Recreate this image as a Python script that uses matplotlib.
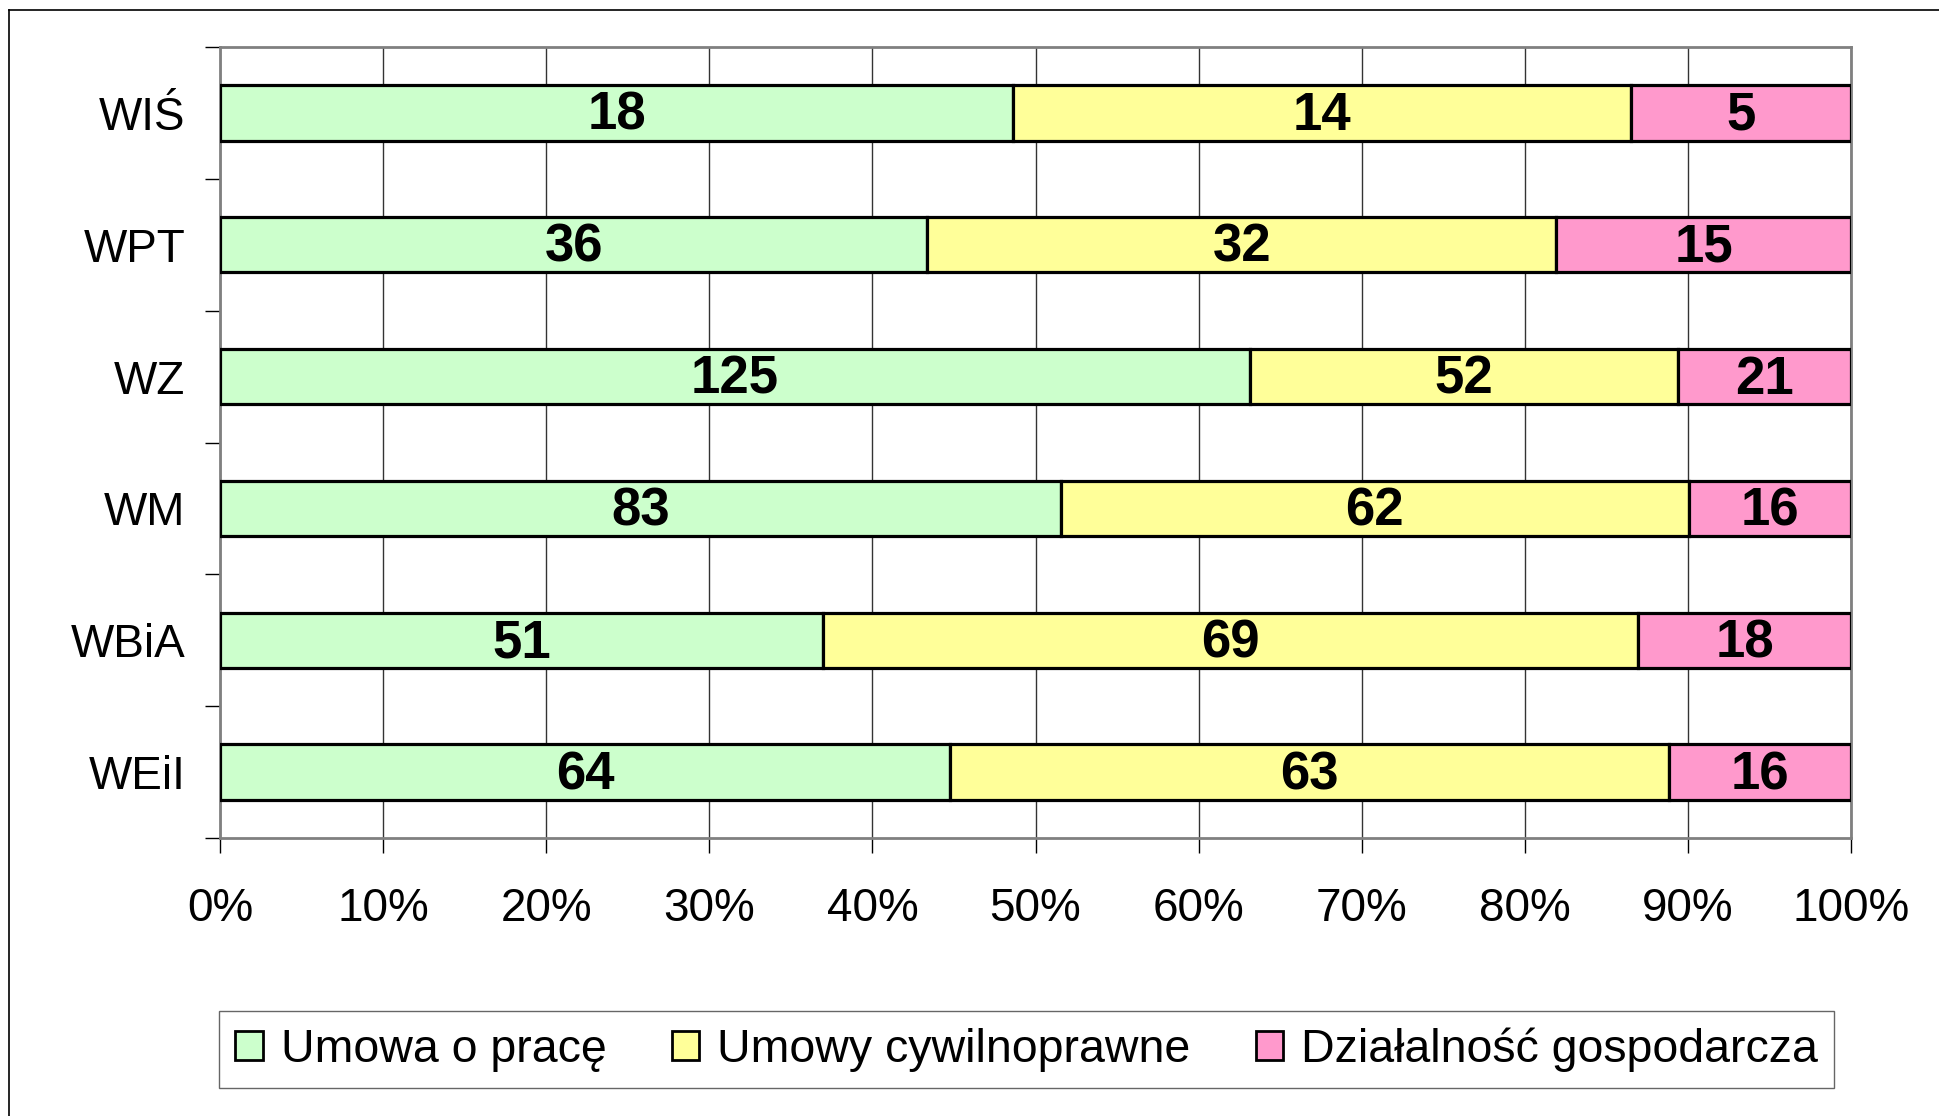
import matplotlib
matplotlib.use("Agg")
import matplotlib.pyplot as plt
from matplotlib.patches import Patch
from matplotlib.lines import Line2D
from matplotlib.transforms import offset_copy
import numpy as np

plt.rcParams['font.family'] = ['Liberation Sans', 'DejaVu Sans']

categories = ["WIŚ", "WPT", "WZ", "WM", "WBiA", "WEiI"]
series_names = ["Umowa o pracę", "Umowy cywilnoprawne", "Działalność gospodarcza"]
umowa_o_prace = [18, 36, 125, 83, 51, 64]
umowy_cywilnoprawne = [14, 32, 52, 62, 69, 63]
dzialalnosc = [5, 15, 21, 16, 18, 16]
x_ticks = [0, 10, 20, 30, 40, 50, 60, 70, 80, 90, 100]
x_ticklabels = [f"{v}%" for v in x_ticks]

colors = ["#CCFFCC", "#FFFF99", "#FF99CC"]

W, H = 1939, 1116
fig = plt.figure(figsize=(W / 100, H / 100), dpi=100)
ax = fig.add_axes([220 / W, 1 - 838 / H, (1851 - 220) / W, (838 - 47) / H])

data = np.array([umowa_o_prace, umowy_cywilnoprawne, dzialalnosc], dtype=float)
totals = data.sum(axis=0)
pct = data / totals * 100
ypos = np.arange(len(categories))

label_tr = offset_copy(ax.transData, fig=fig, x=0, y=-3, units="dots")
left = np.zeros(len(categories))
for i in range(3):
    ax.barh(ypos, pct[i], left=left, height=0.42, color=colors[i],
            edgecolor="black", linewidth=2.3, zorder=3)
    for j in range(len(categories)):
        ax.text(left[j] + pct[i][j] / 2, ypos[j], str(int(data[i][j])),
                ha="center", va="center", fontsize=38, fontweight="bold",
                color="black", zorder=4, transform=label_tr)
    left += pct[i]

ax.set_xlim(0, 100)
ax.set_ylim(len(categories) - 0.5, -0.5)
ax.set_xticks(x_ticks)
ax.set_xticklabels(x_ticklabels, fontsize=33)
ax.set_yticks(ypos)
ax.set_yticklabels(categories, fontsize=33)
ax.set_yticks(np.arange(-0.5, len(categories)), minor=True)
ax.tick_params(axis="y", which="major", length=0, pad=25)
ax.tick_params(axis="y", which="minor", length=11, width=1.0, color="black", direction="out")
ax.tick_params(axis="x", which="major", length=11, width=1.0, color="black", direction="out", pad=24)

ax.xaxis.grid(True, color="#333333", linewidth=1.0, zorder=1)
ax.set_axisbelow(True)
for s in ax.spines.values():
    s.set_color("#808080")
    s.set_linewidth(2.0)

# outer chart frame (only top and left visible in the picture)
fig.add_artist(Line2D([9 / W, 9 / W], [1 - 10 / H, -0.05], transform=fig.transFigure,
                      color="black", linewidth=1.2))
fig.add_artist(Line2D([9 / W, 1.05], [1 - 10 / H, 1 - 10 / H], transform=fig.transFigure,
                      color="black", linewidth=1.2))

handles = [Patch(facecolor=c, edgecolor="black", linewidth=2.0) for c in colors]
leg = fig.legend(handles, series_names, loc="center",
                 bbox_to_anchor=((213 + 1840) / 2 / W, 1 - 1049.5 / H),
                 ncol=3, fontsize=33.5, frameon=True, fancybox=False,
                 handlelength=0.6, handleheight=0.58, handletextpad=0.38,
                 columnspacing=1.4, borderpad=0.35, borderaxespad=0)
leg.get_frame().set_edgecolor("#404040")
leg.get_frame().set_linewidth(1.0)

fig.savefig("out.png", dpi=100)
